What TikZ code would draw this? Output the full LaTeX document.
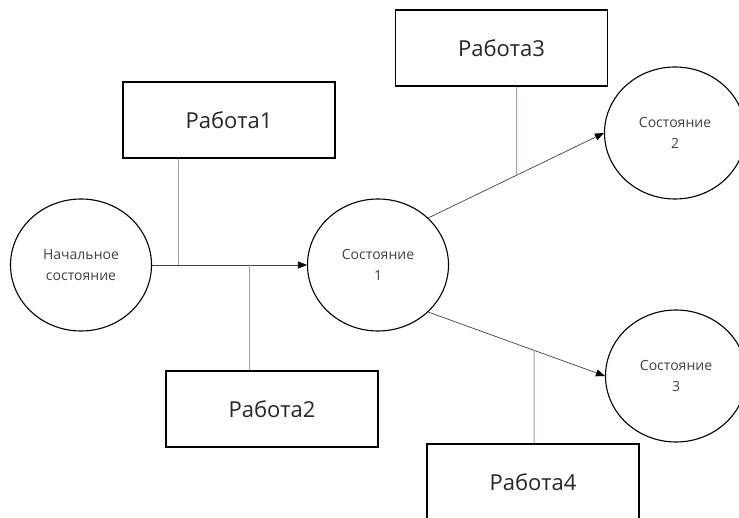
\documentclass[tikz,border=0pt]{standalone}
\usepackage{fontspec}
\setmainfont{Open Sans}
\usetikzlibrary{shapes.geometric,arrows.meta,calc}
\definecolor{linkgray}{HTML}{9AA3AF}
\definecolor{flowgray}{HTML}{404040}
\begin{document}
\begin{tikzpicture}[x=1pt,y=-1pt,
  state/.style={ellipse,draw=black,line width=1.1pt,minimum width=141pt,
    minimum height=132pt,inner sep=0pt,align=center,
    font=\fontsize{14}{21}\selectfont,text=black!75},
  work/.style={rectangle,draw=black,line width=1.1pt,minimum width=212pt,
    minimum height=76pt,inner sep=0pt,font=\fontsize{22}{26}\selectfont,
    text=black!85},
  flow/.style={draw=flowgray,line width=0.7pt,
    -{Triangle[length=9pt,width=7pt,fill=black,color=black]}},
  link/.style={draw=linkgray,line width=1pt}]
\useasboundingbox (0,0) rectangle (739,518);
\clip (0,0) rectangle (739,518);

% states
\node[state] (init) at (81,265) {Начальное\\состояние};
\node[state] (s1) at (378,265) {Состояние\\1};
\node[state] (s2) at (675,133) {Состояние\\2};
\node[state] (s3) at (676,376) {Состояние\\3};

% works
\node[work] (w1) at (229,120) {Работа1};
\node[work] (w2) at (272,409) {Работа2};
\node[work] (w3) at (501.5,48) {Работа3};
\node[work] (w4) at (533,482) {Работа4};

% transitions between states
\draw[flow] (init.east) -- (s1.west);
\draw[flow] (s1.north east) -- (s2.west);
\draw[flow] (s1.south east) -- (s3.west);

% each work attached to its transition
\coordinate (w1port) at ([xshift=56pt]w1.south west);
\coordinate (j1) at (w1port |- init.east);
\draw[link] (w1port) -- (j1);

\coordinate (w2port) at ([xshift=84pt]w2.north west);
\coordinate (j2) at (w2port |- init.east);
\draw[link] (w2port) -- (j2);

\coordinate (w3port) at ([xshift=15pt]w3.south);
\coordinate (j3) at (intersection of w3port--{[xshift=15pt]w3.north} and s1.north east--s2.west);
\draw[link] (w3port) -- (j3);

\coordinate (w4port) at ([xshift=1pt]w4.north);
\coordinate (j4) at (intersection of w4port--{[xshift=1pt]w4.south} and s1.south east--s3.west);
\draw[link] (w4port) -- (j4);
\end{tikzpicture}
\end{document}
